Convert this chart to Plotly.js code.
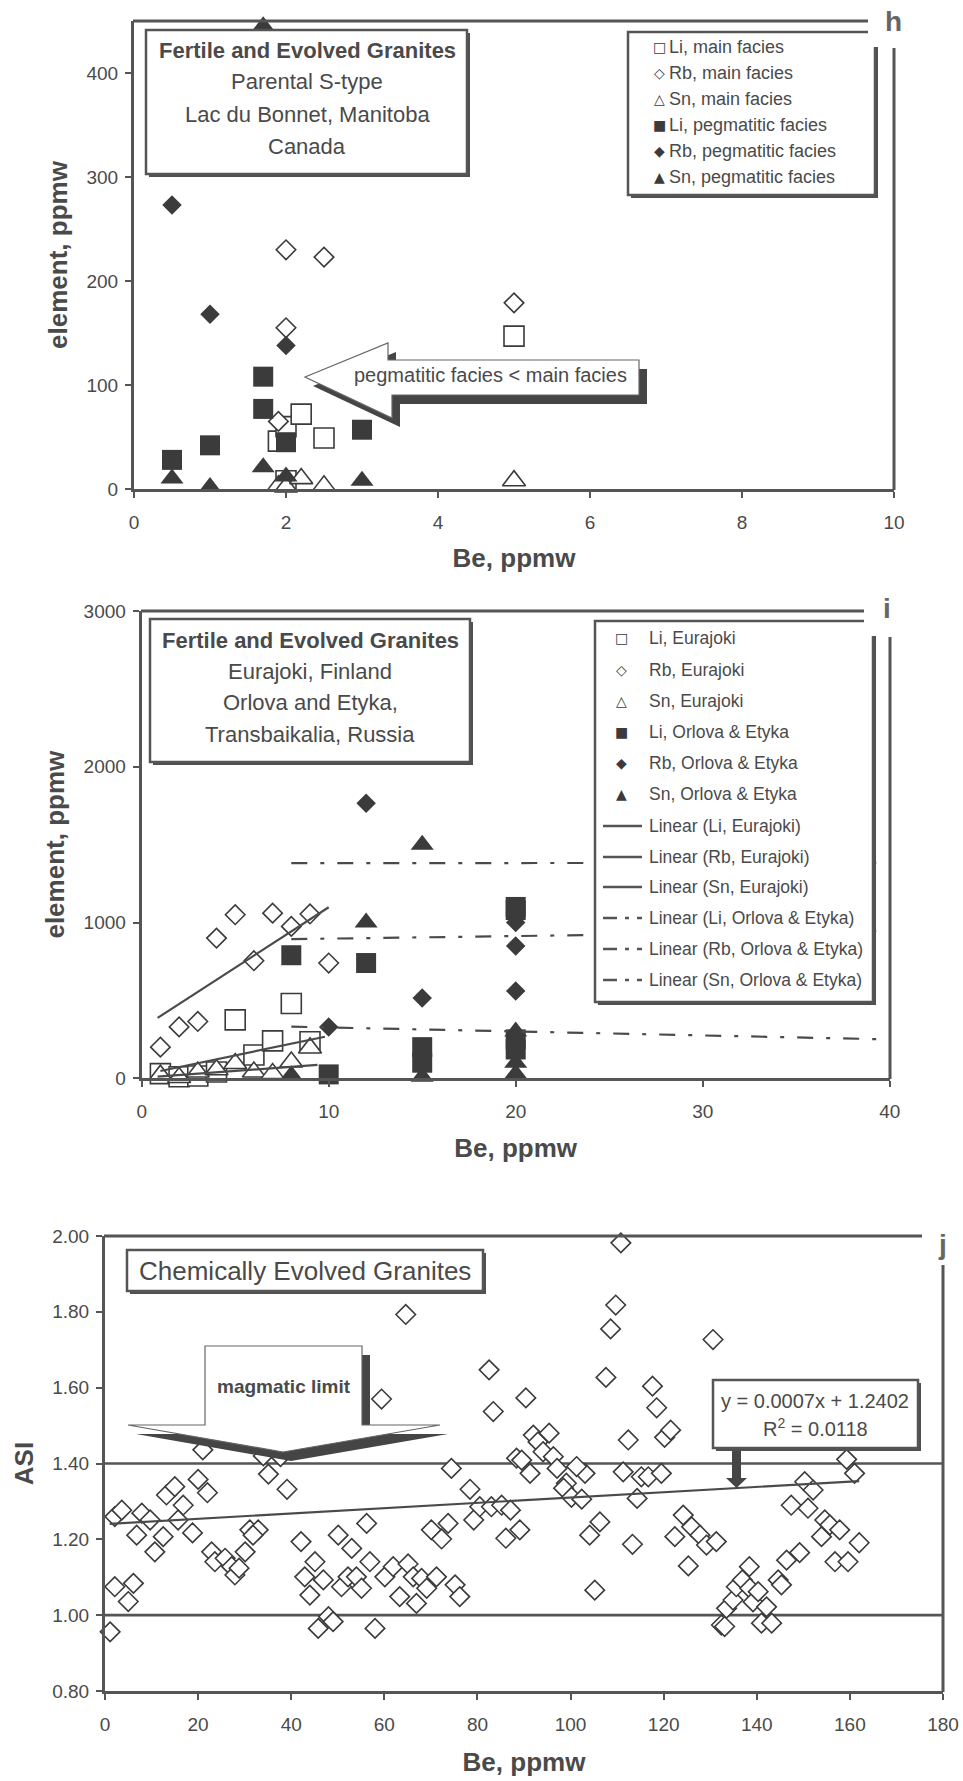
<!DOCTYPE html>
<html><head><meta charset="utf-8">
<script src="https://cdn.plot.ly/plotly-3.0.1.min.js"></script>
<style>html,body{margin:0;padding:0;background:#fff}#chart{width:963px;height:1781px}</style>
</head><body><div id="chart"></div>
<script>
// ---------------- Panel h data (Be vs element, Lac du Bonnet) ----------------
const hSeriesNames = ['Li, main facies','Rb, main facies','Sn, main facies','Li, pegmatitic facies','Rb, pegmatitic facies','Sn, pegmatitic facies'];
const hLiMainX = [1.9, 2, 2.2, 2.5, 5, 2];
const hLiMainY = [46, 60, 72, 49, 147, 8];
const hRbMainX = [2, 2.5, 2, 1.9, 5];
const hRbMainY = [230, 223, 155, 65, 179];
const hSnMainX = [1.9, 2, 2.2, 2.5, 5];
const hSnMainY = [3, 2, 10, 3, 8];
const hLiPegX = [0.5, 1, 1.7, 1.7, 2, 3];
const hLiPegY = [28, 42, 108, 77, 45, 57];
const hRbPegX = [0.5, 1, 2];
const hRbPegY = [273, 168, 138];
const hSnPegX = [0.5, 1, 1.7, 2, 3, 1.7];
const hSnPegY = [10, 2, 21, 12, 8, 445];

// ---------------- Panel i data (Eurajoki / Orlova & Etyka) ----------------
const iSeriesNames = ['Li, Eurajoki','Rb, Eurajoki','Sn, Eurajoki','Li, Orlova & Etyka','Rb, Orlova & Etyka','Sn, Orlova & Etyka'];
const iLiEurX = [1, 2, 3, 4, 5, 6, 7, 8, 9];
const iLiEurY = [30, 10, 15, 40, 375, 150, 240, 480, 235];
const iRbEurX = [1, 2, 3, 4, 5, 6, 7, 8, 9, 10];
const iRbEurY = [200, 330, 365, 900, 1050, 755, 1060, 975, 1055, 740];
const iSnEurX = [1, 2, 3, 4, 5, 6, 7, 8, 9];
const iSnEurY = [20, 5, 40, 55, 95, 40, 30, 105, 195];
const iLiOrlX = [8, 10, 12, 15, 15, 20, 20, 20, 20];
const iLiOrlY = [790, 25, 740, 200, 100, 1100, 1080, 250, 185];
const iRbOrlX = [10, 12, 15, 20, 20, 20];
const iRbOrlY = [330, 1765, 515, 1000, 850, 560];
const iSnOrlX = [8, 12, 15, 15, 20, 20, 20];
const iSnOrlY = [20, 1000, 1500, 10, 300, 100, 30];
// linear trendlines
const iTrendNames = ['Linear (Li, Eurajoki)','Linear (Rb, Eurajoki)','Linear (Sn, Eurajoki)','Linear (Li, Orlova & Etyka)','Linear (Rb, Orlova & Etyka)','Linear (Sn, Orlova & Etyka)'];
const iTrendSlope = [25, 77.6, 8.8, 0.1, 1.66, -2.56];
const iTrendIntercept = [22, 322, 3, 1380, 880, 352];
const iTrendXmin = [1, 0.85, 0.85, 8, 8, 8];
const iTrendXmax = [9.8, 10, 9.4, 40, 40, 40];

// ---------------- Panel j data (Be vs ASI) ----------------
const jBe = [1.1, 2.1, 5, 6.1, 2.1, 3.6, 6.8, 7.9, 9.7, 10.7,
 12.5, 13.2, 15, 16.8, 15.7, 18.8, 20, 22, 22.9, 23.6,
 25.8, 27.2, 27.9, 28.8, 30.1, 31.1, 32.9, 31.8, 21, 34,
 35.1, 39.1, 37.7, 42.1, 45.1, 42.9, 46.9, 44, 50.1, 53,
 56.2, 56.9, 50.8, 52.2, 54, 55.1, 60.1, 61.9, 65.1, 66.2,
 68, 71.2, 69.1, 63.3, 66.9, 75.2, 76.2, 45.8, 48, 49,
 58, 59.4, 64.6, 70.1, 72.3, 73.7, 74.4, 78.4, 79.2, 80.5,
 83, 85.2, 87.1, 86.1, 89.1, 82.5, 83.4, 88.4, 90.4, 92,
 93, 94.1, 95.4, 96.3, 91.3, 97.1, 99.1, 98.5, 100.2, 102.4,
 103.1, 101.3, 89.5, 104.1, 106.3, 105.2, 107.6, 108.6, 109.7, 110.8,
 111.3, 112.4, 113.3, 114.3, 115.2, 116.7, 117.6, 118.5, 119.5, 120.2,
 121.5, 122.4, 124.2, 125.3, 126, 127.8, 129.2, 130.6, 131.3, 132.4,
 133.1, 133.5, 134.9, 135.6, 136.9, 138.4, 138.5, 139.2, 140.3, 141,
 142.1, 143.2, 144.6, 145.3, 146.4, 147.4, 149.2, 150.3, 151, 152.1,
 153.9, 154.6, 155.7, 156.8, 157.8, 159.3, 159.6, 161, 162];
const jAsi = [0.956, 1.075, 1.036, 1.084, 1.26, 1.277, 1.211, 1.269, 1.251, 1.167,
 1.207, 1.317, 1.339, 1.29, 1.251, 1.217, 1.358, 1.323, 1.167, 1.141,
 1.15, 1.128, 1.106, 1.124, 1.167, 1.225, 1.225, 1.211, 1.436, 1.42,
 1.372, 1.332, 1.418, 1.194, 1.141, 1.101, 1.093, 1.053, 1.211, 1.176,
 1.242, 1.141, 1.075, 1.101, 1.101, 1.071, 1.101, 1.128, 1.135, 1.101,
 1.097, 1.101, 1.071, 1.049, 1.031, 1.08, 1.049, 0.965, 0.996, 0.983,
 0.965, 1.57, 1.793, 1.225, 1.201, 1.242, 1.387, 1.332, 1.251, 1.286,
 1.286, 1.29, 1.277, 1.203, 1.225, 1.647, 1.537, 1.414, 1.573, 1.475,
 1.457, 1.431, 1.48, 1.418, 1.374, 1.387, 1.348, 1.335, 1.311, 1.306,
 1.374, 1.392, 1.409, 1.211, 1.246, 1.066, 1.627, 1.755, 1.818, 1.982,
 1.378, 1.462, 1.187, 1.308, 1.365, 1.365, 1.604, 1.547, 1.374, 1.469,
 1.488, 1.207, 1.264, 1.13, 1.233, 1.211, 1.185, 1.727, 1.194, 0.974,
 0.97, 1.018, 1.04, 1.075, 1.093, 1.128, 1.071, 1.035, 1.062, 0.979,
 1.022, 0.979, 1.093, 1.08, 1.145, 1.29, 1.165, 1.352, 1.282, 1.33,
 1.207, 1.251, 1.238, 1.141, 1.225, 1.411, 1.141, 1.374, 1.191];
const jTrendSlope = 0.0007, jTrendIntercept = 1.2402;
const jTrendRange = [1, 162];
const jLimits = [1.0, 1.4];
const jEquation = ['y = 0.0007x + 1.2402', 'R<sup>2</sup> = 0.0118'];

// ---------------- styling helpers ----------------
const W = 963, H = 1781;
const px = v => v / W;
const py = v => 1 - v / H;
const DARK = '#3b3b3b', LINE = '#555555', TXT = '#4a4a4a';
const FONT = 'Liberation Sans, Arial, Helvetica, sans-serif';

function markers(x, y, xa, ya, symbol, filled, size, name) {
  return {type:'scatter', mode:'markers', x:x, y:y, xaxis:xa, yaxis:ya, name:name,
    showlegend:false, cliponaxis:false, hoverinfo:'x+y+name',
    marker:{symbol:symbol, size:size, color: filled ? DARK : 'white',
      line:{color:DARK, width: filled ? 0 : 1.6}}};
}
function trend(slope, icpt, x0, x1, xa, ya, dash, name) {
  const xs = [x0, x1];
  return {type:'scatter', mode:'lines', x:xs, y:xs.map(v => slope*v + icpt), xaxis:xa, yaxis:ya,
    name:name, showlegend:false, hoverinfo:'skip', line:{color:'#4a4a4a', width:2.2, dash:dash}};
}
const traces = [];
traces.push(markers(hLiMainX, hLiMainY, 'x', 'y', 'square', false, 20, hSeriesNames[0]));
traces.push(markers(hRbMainX, hRbMainY, 'x', 'y', 'diamond', false, 15, hSeriesNames[1]));
traces.push(markers(hSnMainX, hSnMainY, 'x', 'y', 'triangle-up', false, 20, hSeriesNames[2]));
traces.push(markers(hLiPegX, hLiPegY, 'x', 'y', 'square', true, 20, hSeriesNames[3]));
traces.push(markers(hRbPegX, hRbPegY, 'x', 'y', 'diamond', true, 15, hSeriesNames[4]));
traces.push(markers(hSnPegX, hSnPegY, 'x', 'y', 'triangle-up', true, 20, hSeriesNames[5]));
const DASHDOT = '16px,13px,4px,13px';
traces.push(markers(iLiEurX, iLiEurY, 'x2', 'y2', 'square', false, 20, iSeriesNames[0]));
traces.push(markers(iRbEurX, iRbEurY, 'x2', 'y2', 'diamond', false, 15, iSeriesNames[1]));
traces.push(markers(iSnEurX, iSnEurY, 'x2', 'y2', 'triangle-up', false, 20, iSeriesNames[2]));
traces.push(markers(iLiOrlX, iLiOrlY, 'x2', 'y2', 'square', true, 20, iSeriesNames[3]));
traces.push(markers(iRbOrlX, iRbOrlY, 'x2', 'y2', 'diamond', true, 15, iSeriesNames[4]));
traces.push(markers(iSnOrlX, iSnOrlY, 'x2', 'y2', 'triangle-up', true, 20, iSeriesNames[5]));
for (let k = 0; k < iTrendNames.length; k++) {
  traces.push(trend(iTrendSlope[k], iTrendIntercept[k], iTrendXmin[k], iTrendXmax[k], 'x2', 'y2',
    k < 3 ? 'solid' : DASHDOT, iTrendNames[k]));
}
traces.push(markers(jBe, jAsi, 'x3', 'y3', 'diamond', false, 15, 'ASI'));
traces.push(trend(jTrendSlope, jTrendIntercept, jTrendRange[0], jTrendRange[1], 'x3', 'y3', 'solid', 'Linear (ASI)'));

function xAxis(d0, d1, range, dtick, anchor, standoff) {
  return {domain:[px(d0), px(d1)], range:range, dtick:dtick, tick0:0, anchor:anchor,
    showline:true, linewidth:3, linecolor:LINE, ticks:'outside', ticklen:6, tickwidth:2, tickcolor:LINE,
    showgrid:false, zeroline:false, fixedrange:true, ticklabelstandoff:8,
    tickfont:{family:FONT, size:19, color:TXT},
    title:{text:'<b>Be, ppmw</b>', font:{family:FONT, size:26, color:TXT}, standoff:standoff}};
}
function yAxis(top, bot, range, dtick, anchor, title, fmt, standoff) {
  return {domain:[py(bot), py(top)], range:range, dtick:dtick, tick0:range[0], anchor:anchor,
    showline:true, linewidth:3, linecolor:LINE, ticks:'outside', ticklen:6, tickwidth:2, tickcolor:LINE,
    showgrid:false, zeroline:false, fixedrange:true, tickformat:fmt, ticklabelstandoff:3,
    tickfont:{family:FONT, size:19, color:TXT},
    title:{text:'<b>' + title + '</b>', font:{family:FONT, size:26, color:TXT}, standoff:standoff}};
}

function rect(x0, y0, x1, y1, fill, lw, lc) {
  return {type:'rect', xref:'paper', yref:'paper', layer:'above',
    x0:px(x0), x1:px(x1), y0:py(y1), y1:py(y0), fillcolor:fill,
    line:{width:lw || 0, color:lc || LINE}};
}
function seg(x0, y0, x1, y1, w, dash) {
  return {type:'line', xref:'paper', yref:'paper', layer:'above',
    x0:px(x0), y0:py(y0), x1:px(x1), y1:py(y1), line:{width:w, color:LINE, dash:dash || 'solid'}};
}
function poly(pts, fill, lw, lc) {
  const d = pts.map((p, i) => (i ? 'L' : 'M') + px(p[0]).toFixed(5) + ',' + py(p[1]).toFixed(5)).join(' ') + ' Z';
  return {type:'path', xref:'paper', yref:'paper', layer:'above', path:d, fillcolor:fill,
    line:{width:lw || 0, color:lc || LINE}};
}
function shadowBox(x0, y0, x1, y1, sh) {
  return [rect(x0 + sh, y0 + sh, x1 + sh, y1 + sh, '#505050', 0), rect(x0, y0, x1, y1, 'white', 2.5)];
}
function shifted(pts, dx, dy) { return pts.map(p => [p[0] + dx, p[1] + dy]); }
function ann(x, y, text, size, anchor, extra) {
  const a = {xref:'paper', yref:'paper', x:px(x), y:py(y), text:text, showarrow:false,
    xanchor:anchor || 'center', yanchor:'middle', font:{family:FONT, size:size, color:TXT}};
  return Object.assign(a, extra || {});
}

const shapes = [];
const annotations = [];

// ---- panel h ----
shapes.push(seg(133, 21, 868, 21, 3));
shapes.push(seg(894, 48, 894, 490, 3));
shapes.push(...shadowBox(146, 30, 467, 174, 3));
shapes.push(...shadowBox(628, 32, 875, 195, 3));
const hArrow = [[305, 377], [388, 343], [388, 360], [639, 360], [639, 395], [392, 395], [392, 418]];
shapes.push(poly(shifted(hArrow, 8, 9), '#454545', 0));
shapes.push(poly(hArrow, 'white', 1.2, '#666'));
shapes.push(rect(868, 8, 906, 47, 'white', 0));
annotations.push(ann(893, 21, '<b>h</b>', 28, 'center', {font:{family:FONT, size:28, color:'#666'}}));
annotations.push(ann(307, 51, '<b>Fertile and Evolved Granites</b>', 22));
annotations.push(ann(307, 82, 'Parental S-type', 22));
annotations.push(ann(307, 114, 'Lac du Bonnet, Manitoba', 22));
annotations.push(ann(307, 146, 'Canada', 22));
annotations.push(ann(490, 375, 'pegmatitic facies &lt; main facies', 20));
const hGlyphs = ['□', '◇', '△', '■', '◆', '▲'];
const hRows = [47, 73, 99, 125, 151, 177];
for (let k = 0; k < 6; k++) {
  annotations.push(ann(659, hRows[k], hGlyphs[k], 14, 'center', {font:{family:'DejaVu Sans', size:14, color:DARK}}));
  annotations.push(ann(667, hRows[k], hSeriesNames[k], 18, 'left'));
}

// ---- panel i ----
shapes.push(seg(141, 611, 864, 611, 3));
shapes.push(seg(890, 637, 890, 1079, 3));
shapes.push(...shadowBox(150, 619, 470, 762, 3));
shapes.push(...shadowBox(595, 621, 873, 1002, 3));
shapes.push(rect(864, 596, 902, 636, 'white', 0));
annotations.push(ann(887, 608, '<b>i</b>', 28, 'center', {font:{family:FONT, size:28, color:'#666'}}));
annotations.push(ann(310, 640, '<b>Fertile and Evolved Granites</b>', 22));
annotations.push(ann(310, 671, 'Eurajoki, Finland', 22));
annotations.push(ann(310, 703, 'Orlova and Etyka,', 22));
annotations.push(ann(310, 734, 'Transbaikalia, Russia', 22));
const iRows = [638, 670, 701, 732, 763, 794, 826, 857, 887, 918, 949, 980];
const iLegendLabels = iSeriesNames.concat(iTrendNames);
for (let k = 0; k < 12; k++) {
  if (k < 6) {
    annotations.push(ann(621, iRows[k], hGlyphs[k], 14, 'center', {font:{family:'DejaVu Sans', size:14, color:DARK}}));
  } else {
    shapes.push(seg(603, iRows[k], 642, iRows[k], 2.5, k < 9 ? 'solid' : '14px,8px,4px,8px'));
  }
  annotations.push(ann(647, iRows[k], iLegendLabels[k], 17.5, 'left'));
}

// ---- panel j ----
shapes.push(seg(104, 1236, 922, 1236, 3));
shapes.push(seg(943, 1265, 943, 1692, 3));
jLimits.forEach(v => shapes.push({type:'line', xref:'x3 domain', yref:'y3', x0:0, x1:1, y0:v, y1:v,
  line:{width:2.6, color:LINE}, layer:'below'}));
shapes.push(...shadowBox(127, 1250, 483, 1291, 3));
const jArrow = [[205, 1346], [362, 1346], [362, 1425], [440, 1425], [283, 1452], [128, 1425], [205, 1425]];
shapes.push(poly(shifted(jArrow, 8, 9), '#454545', 0));
shapes.push(poly(jArrow, 'white', 1.2, '#666'));
shapes.push(...shadowBox(713, 1380, 918, 1448, 3));
shapes.push(poly([[732, 1451], [741, 1451], [741, 1478], [747, 1478], [736.5, 1488], [726, 1478], [732, 1478]], '#454545', 0));
shapes.push(rect(922, 1222, 962, 1264, 'white', 0));
annotations.push(ann(942, 1244, '<b>j</b>', 28, 'center', {font:{family:FONT, size:28, color:'#666'}}));
annotations.push(ann(305, 1271, 'Chemically Evolved Granites', 26));
annotations.push(ann(284, 1386, '<b>magmatic limit</b>', 19));
annotations.push(ann(815, 1401, jEquation[0], 20));
annotations.push(ann(815, 1427, jEquation[1], 20));

const layout = {
  width: W, height: H, margin:{l:0, r:0, t:0, b:0},
  paper_bgcolor:'white', plot_bgcolor:'rgba(0,0,0,0)', showlegend:false,
  font:{family:FONT, color:TXT},
  xaxis:  xAxis(134, 894, [0, 10], 2, 'y', 18),
  yaxis:  yAxis(21, 489, [0, 450], 100, 'x', 'element, ppmw', '', 12),
  xaxis2: xAxis(141.7, 889.7, [0, 40], 10, 'y2', 18),
  yaxis2: yAxis(611, 1078.3, [0, 3000], 1000, 'x2', 'element, ppmw', '', 12),
  xaxis3: xAxis(105, 943, [0, 180], 20, 'y3', 20),
  yaxis3: yAxis(1236, 1691, [0.8, 2.0], 0.2, 'x3', 'ASI', '.2f', 12),
  shapes: shapes, annotations: annotations
};
Plotly.newPlot('chart', traces, layout, {displayModeBar:false, staticPlot:true});
</script>
</body></html>
